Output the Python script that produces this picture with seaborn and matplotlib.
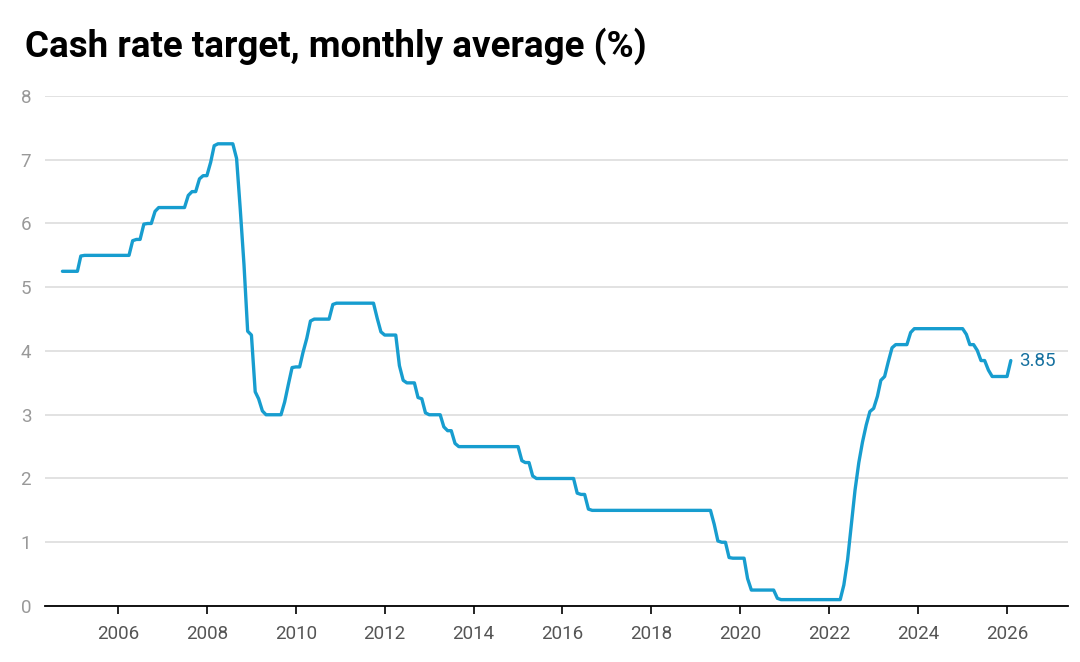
import matplotlib
matplotlib.use("Agg")
import matplotlib.pyplot as plt
import matplotlib.dates as mdates
import seaborn as sns
import pandas as pd

# Cash rate target, monthly averages, Oct 2004 - Feb 2026
y2004 = [5.25, 5.25, 5.25]  # Oct-Dec
y2005 = [5.25, 5.25, 5.49, 5.5, 5.5, 5.5, 5.5, 5.5, 5.5, 5.5, 5.5, 5.5]
y2006 = [5.5, 5.5, 5.5, 5.5, 5.73, 5.75, 5.75, 5.99, 6.0, 6.0, 6.19, 6.25]
y2007 = [6.25, 6.25, 6.25, 6.25, 6.25, 6.25, 6.25, 6.44, 6.5, 6.5, 6.7, 6.75]
y2008 = [6.75, 6.96, 7.22, 7.25, 7.25, 7.25, 7.25, 7.25, 7.02, 6.23, 5.35, 4.31]
y2009 = [4.25, 3.36, 3.25, 3.06, 3.0, 3.0, 3.0, 3.0, 3.0, 3.2, 3.48, 3.74]
y2010 = [3.75, 3.75, 3.98, 4.2, 4.47, 4.5, 4.5, 4.5, 4.5, 4.5, 4.73, 4.75]
y2011 = [4.75, 4.75, 4.75, 4.75, 4.75, 4.75, 4.75, 4.75, 4.75, 4.75, 4.51, 4.3]
y2012 = [4.25, 4.25, 4.25, 4.25, 3.77, 3.54, 3.5, 3.5, 3.5, 3.27, 3.25, 3.03]
y2013 = [3.0, 3.0, 3.0, 3.0, 2.81, 2.75, 2.75, 2.55, 2.5, 2.5, 2.5, 2.5]
y2014 = [2.5, 2.5, 2.5, 2.5, 2.5, 2.5, 2.5, 2.5, 2.5, 2.5, 2.5, 2.5]
y2015 = [2.5, 2.28, 2.25, 2.25, 2.04, 2.0, 2.0, 2.0, 2.0, 2.0, 2.0, 2.0]
y2016 = [2.0, 2.0, 2.0, 2.0, 1.77, 1.75, 1.75, 1.52, 1.5, 1.5, 1.5, 1.5]
y2017 = [1.5, 1.5, 1.5, 1.5, 1.5, 1.5, 1.5, 1.5, 1.5, 1.5, 1.5, 1.5]
y2018 = [1.5, 1.5, 1.5, 1.5, 1.5, 1.5, 1.5, 1.5, 1.5, 1.5, 1.5, 1.5]
y2019 = [1.5, 1.5, 1.5, 1.5, 1.5, 1.28, 1.02, 1.0, 1.0, 0.76, 0.75, 0.75]
y2020 = [0.75, 0.75, 0.43, 0.25, 0.25, 0.25, 0.25, 0.25, 0.25, 0.25, 0.12, 0.1]
y2021 = [0.1, 0.1, 0.1, 0.1, 0.1, 0.1, 0.1, 0.1, 0.1, 0.1, 0.1, 0.1]
y2022 = [0.1, 0.1, 0.1, 0.1, 0.33, 0.73, 1.27, 1.82, 2.25, 2.57, 2.84, 3.05]
y2023 = [3.1, 3.29, 3.54, 3.6, 3.83, 4.05, 4.1, 4.1, 4.1, 4.1, 4.29, 4.35]
y2024 = [4.35, 4.35, 4.35, 4.35, 4.35, 4.35, 4.35, 4.35, 4.35, 4.35, 4.35, 4.35]
y2025 = [4.35, 4.26, 4.1, 4.1, 4.01, 3.85, 3.85, 3.7, 3.6, 3.6, 3.6, 3.6]
y2026 = [3.6, 3.85]  # Jan-Feb

rates = (y2004 + y2005 + y2006 + y2007 + y2008 + y2009 + y2010 + y2011 + y2012
         + y2013 + y2014 + y2015 + y2016 + y2017 + y2018 + y2019 + y2020 + y2021
         + y2022 + y2023 + y2024 + y2025 + y2026)
months = pd.date_range("2004-10-01", periods=len(rates), freq="MS")
df = pd.DataFrame({"month": months, "rate": rates})

last_label = "3.85"
y_ticks = [0, 1, 2, 3, 4, 5, 6, 7, 8]

sns.set_theme(style="white")
plt.rcParams["font.family"] = ["Roboto", "DejaVu Sans"]

fig = plt.figure(figsize=(10.8, 6.62), dpi=100)
ax = fig.add_axes([0.0417, 0.0846, 0.9472, 0.7704])

line_col = "#179dcf"
sns.lineplot(data=df, x="month", y="rate", ax=ax, color=line_col, linewidth=2.4)

ax.set_ylim(0, 8)
ax.set_xlim(pd.Timestamp("2004-05-11"), pd.Timestamp("2027-05-17"))
ax.set_yticks(y_ticks)
ax.yaxis.grid(True, color="#dddddd", linewidth=1.2)
ax.set_axisbelow(True)

ax.xaxis.set_major_locator(mdates.YearLocator(2))
ax.xaxis.set_major_formatter(mdates.DateFormatter("%Y"))

for s in ["top", "right", "left"]:
    ax.spines[s].set_visible(False)
ax.spines["bottom"].set_color("black")
ax.spines["bottom"].set_linewidth(1.3)

ax.tick_params(axis="x", length=6, width=1.2, color="black", labelsize=13.5,
               labelcolor="#555555", pad=8, bottom=True)
ax.tick_params(axis="y", length=0, labelsize=13.5, labelcolor="#999999", pad=10)

ax.set_xlabel("")
ax.set_ylabel("")

ax.annotate(last_label, xy=(df["month"].iloc[-1], df["rate"].iloc[-1]),
            xytext=(6, 0), textcoords="offset points", va="center", ha="left",
            fontsize=13.5, color="#15709f")

fig.text(0.023, 0.915, "Cash rate target, monthly average (%)", fontsize=26.5,
         fontweight="bold", color="black", ha="left", va="baseline")

fig.savefig("out.png", dpi=100)
